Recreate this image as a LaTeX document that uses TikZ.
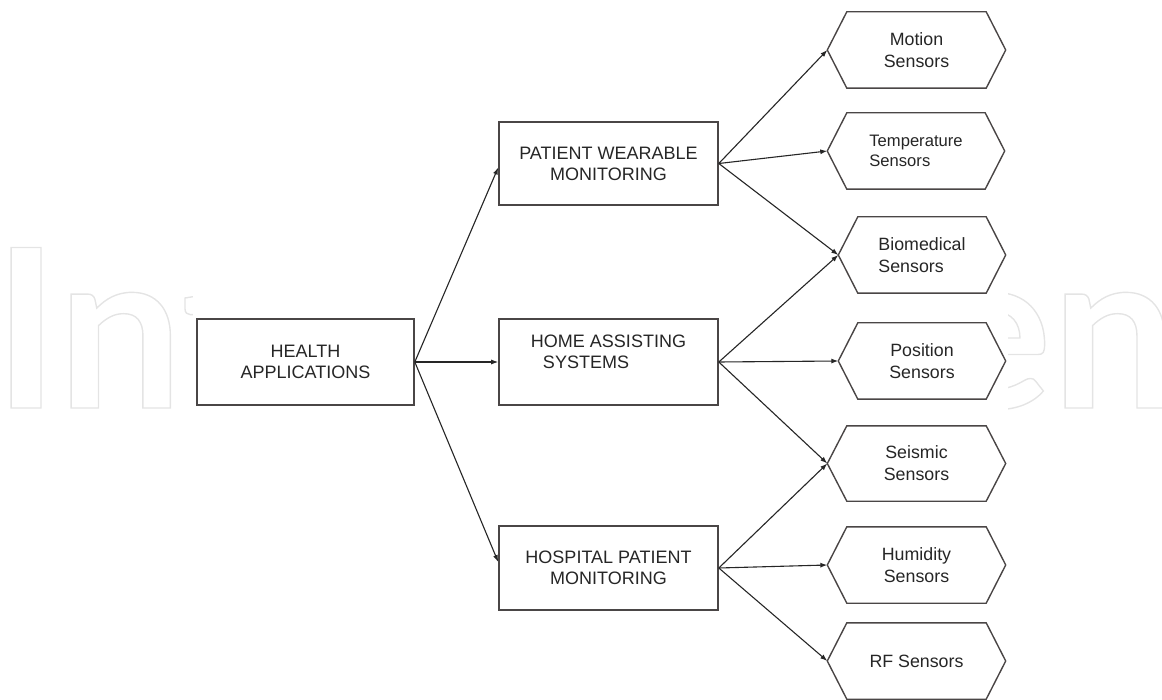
\documentclass[tikz,border=0pt]{standalone}
\usepackage{fontspec}
\setmainfont{Liberation Sans}
\newfontfamily\markfont{Lato}
\usetikzlibrary{arrows.meta}

\definecolor{inkline}{HTML}{4A4646}
\definecolor{inktext}{HTML}{262626}
\definecolor{markgray}{HTML}{E4E4E4}

\begin{document}
\begin{tikzpicture}[x=1pt,y=-1pt,
  box/.style={draw=inkline, line width=1.6pt, inner sep=0pt, align=center,
    text=inktext, font=\fontsize{18}{21}\selectfont},
  sensor/.style={inner sep=0pt, minimum height=76pt, align=center,
    text=inktext, font=\fontsize{17.8}{22}\selectfont},
  hexline/.style={draw=inkline, line width=1.4pt, line join=miter},
  conn/.style={draw=inktext, line width=1.1pt, -{Latex[length=7pt,width=5pt]}},
  brandtext/.style={inner sep=0pt, text=markgray,
    font=\markfont\bfseries\fontsize{222}{222}\selectfont}]

\useasboundingbox (0,0) rectangle (1162,700);

% outlined publisher mark behind the chart
\node[brandtext, anchor=base west] (brandL) at (-7,408)
  {\special{pdf:literal direct 1 Tr 1.4 w}Int\special{pdf:literal direct 0 Tr}};
\node[brandtext, anchor=base east] (brandR) at (1177,408)
  {\special{pdf:literal direct 1 Tr 1.4 w}en\special{pdf:literal direct 0 Tr}};
\fill[white] (193,0) rectangle (1008,700);

% application boxes
\node[box, minimum width=217pt, minimum height=86pt] (health) at (305.5,362)
  {HEALTH\\APPLICATIONS};
\node[box, minimum width=219pt, minimum height=83pt] (wear) at (608.5,163.5)
  {PATIENT WEARABLE\\MONITORING};
\node[box, minimum width=219pt, minimum height=86pt, align=left] (home) at (608.5,362)
  {HOME ASSISTING\\\hspace*{12pt}SYSTEMS\\\mbox{}};
\node[box, minimum width=219pt, minimum height=84pt] (hosp) at (608.5,568)
  {HOSPITAL PATIENT\\MONITORING};

% sensor hexagons (node = flat top/bottom part)
\node[sensor, minimum width=139pt] (motion) at (916.5,50) {Motion\\Sensors};
\node[sensor, minimum width=138pt, align=left, font=\fontsize{16.6}{20}\selectfont]
  (temp) at (916,151) {Temperature\\Sensors};
\node[sensor, minimum width=128pt, align=left] (bio) at (922,255) {Biomedical\\Sensors};
\node[sensor, minimum width=128pt] (pos) at (922,361) {Position\\Sensors};
\node[sensor, minimum width=139pt, minimum height=75pt] (seis) at (916.5,463.5) {Seismic\\Sensors};
\node[sensor, minimum width=139pt] (humid) at (916.5,565) {Humidity\\Sensors};
\node[sensor, minimum width=139pt] (rf) at (916.5,661) {RF Sensors};

\foreach \n in {motion,temp,bio,pos,seis,humid,rf}{
  \draw[hexline] (\n.north west) -- (\n.north east) -- ([xshift=19.5pt]\n.east)
    -- (\n.south east) -- (\n.south west) -- ([xshift=-19.5pt]\n.west) -- cycle;
  \coordinate (\n-tip) at ([xshift=-19.5pt]\n.west);
}

% connectors
\draw[conn] (health.east) -- ([yshift=-4pt]wear.west);
\draw[conn] (health.east) -- (home.west);
\draw[conn] (health.east) -- ([yshift=6pt]hosp.west);

\draw[conn] (wear.east) -- (motion-tip);
\draw[conn] (wear.east) -- (temp-tip);
\draw[conn] (wear.east) -- (bio-tip);

\draw[conn] (home.east) -- (bio-tip);
\draw[conn] (home.east) -- (pos-tip);
\draw[conn] (home.east) -- (seis-tip);

\draw[conn] (hosp.east) -- (seis-tip);
\draw[conn] (hosp.east) -- (humid-tip);
\draw[conn] (hosp.east) -- (rf-tip);
\end{tikzpicture}
\end{document}
